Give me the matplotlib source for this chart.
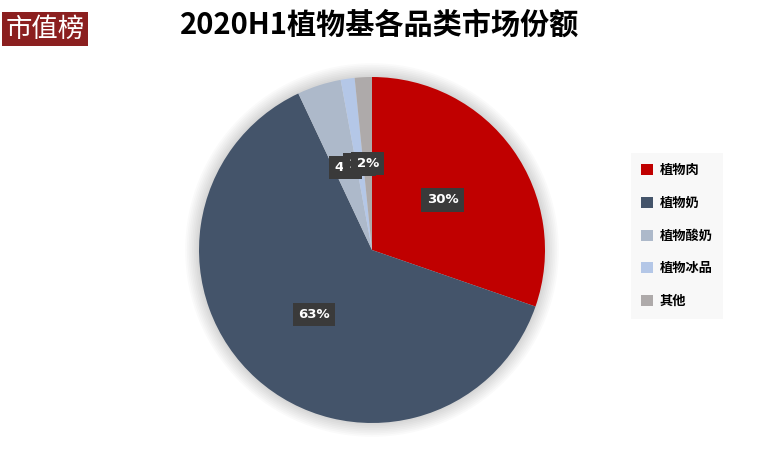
import matplotlib.pyplot as plt
from matplotlib.patches import Circle, Patch

plt.rcParams['font.family'] = ['Noto Sans CJK SC', 'DejaVu Sans']

# 数据
categories = ['植物肉', '植物奶', '植物酸奶', '植物冰品', '其他']
shares = [30.3, 62.7, 4.1, 1.3, 1.6]
colors = ['#C00000', '#44546A', '#ADB9CA', '#B4C7E7', '#AEAAAA']

W, H = 759, 469
fig = plt.figure(figsize=(W / 100, H / 100), dpi=100)
fig.patch.set_facecolor('white')

# pie axes: centre (372,250), radius 173 px
cx, cy, r = 372, 250, 173
lim = 1.12
ax = fig.add_axes([(cx - r * lim) / W, (H - cy - r * lim) / H, 2 * r * lim / W, 2 * r * lim / H])

# soft shadow round the pie
for k in range(8):
    ax.add_patch(Circle((0, 0), 1.0 + 0.010 * (k + 1), color='#000000', alpha=0.02, lw=0, zorder=0))

wedges, texts, autotexts = ax.pie(
    shares, colors=colors, startangle=90, counterclock=False,
    autopct=lambda p: '%d%%' % round(p), pctdistance=0.5,
    wedgeprops=dict(linewidth=0),
    textprops=dict(color='white', fontsize=9.5, fontweight='bold', family='DejaVu Sans'))
for w in wedges:
    w.set_zorder(2)
for t in autotexts:
    t.set_zorder(5)
    t.set_bbox(dict(boxstyle='square,pad=0.4', facecolor='#3A3A3A', edgecolor='none'))

ax.set_xlim(-lim, lim)
ax.set_ylim(-lim, lim)
ax.set_aspect('equal')
ax.axis('off')

# title
fig.text(380 / W, 1 - 25 / H, '2020H1植物基各品类市场份额', ha='center', va='center',
         fontsize=21, fontweight='bold', style='italic', color='black')

# logo
fig.text(45 / W, 1 - 29 / H, '市值榜', ha='center', va='center', fontsize=19, color='white',
         bbox=dict(boxstyle='square,pad=0.12', facecolor='#8B1F1F', edgecolor='none'))

# legend
handles = [Patch(facecolor=c, edgecolor='none') for c in colors]
leg = fig.legend(handles, categories, loc='upper left', bbox_to_anchor=(624 / W, 1 - 146 / H),
                 frameon=True, fancybox=False, handlelength=0.9, handleheight=0.9,
                 handletextpad=0.5, labelspacing=1.42, borderpad=0.8,
                 prop=dict(family='Noto Sans CJK SC', weight='bold', size=9.5))
leg.get_frame().set_facecolor('#F7F7F7')
leg.get_frame().set_edgecolor('none')

fig.savefig('out.png', dpi=100)
